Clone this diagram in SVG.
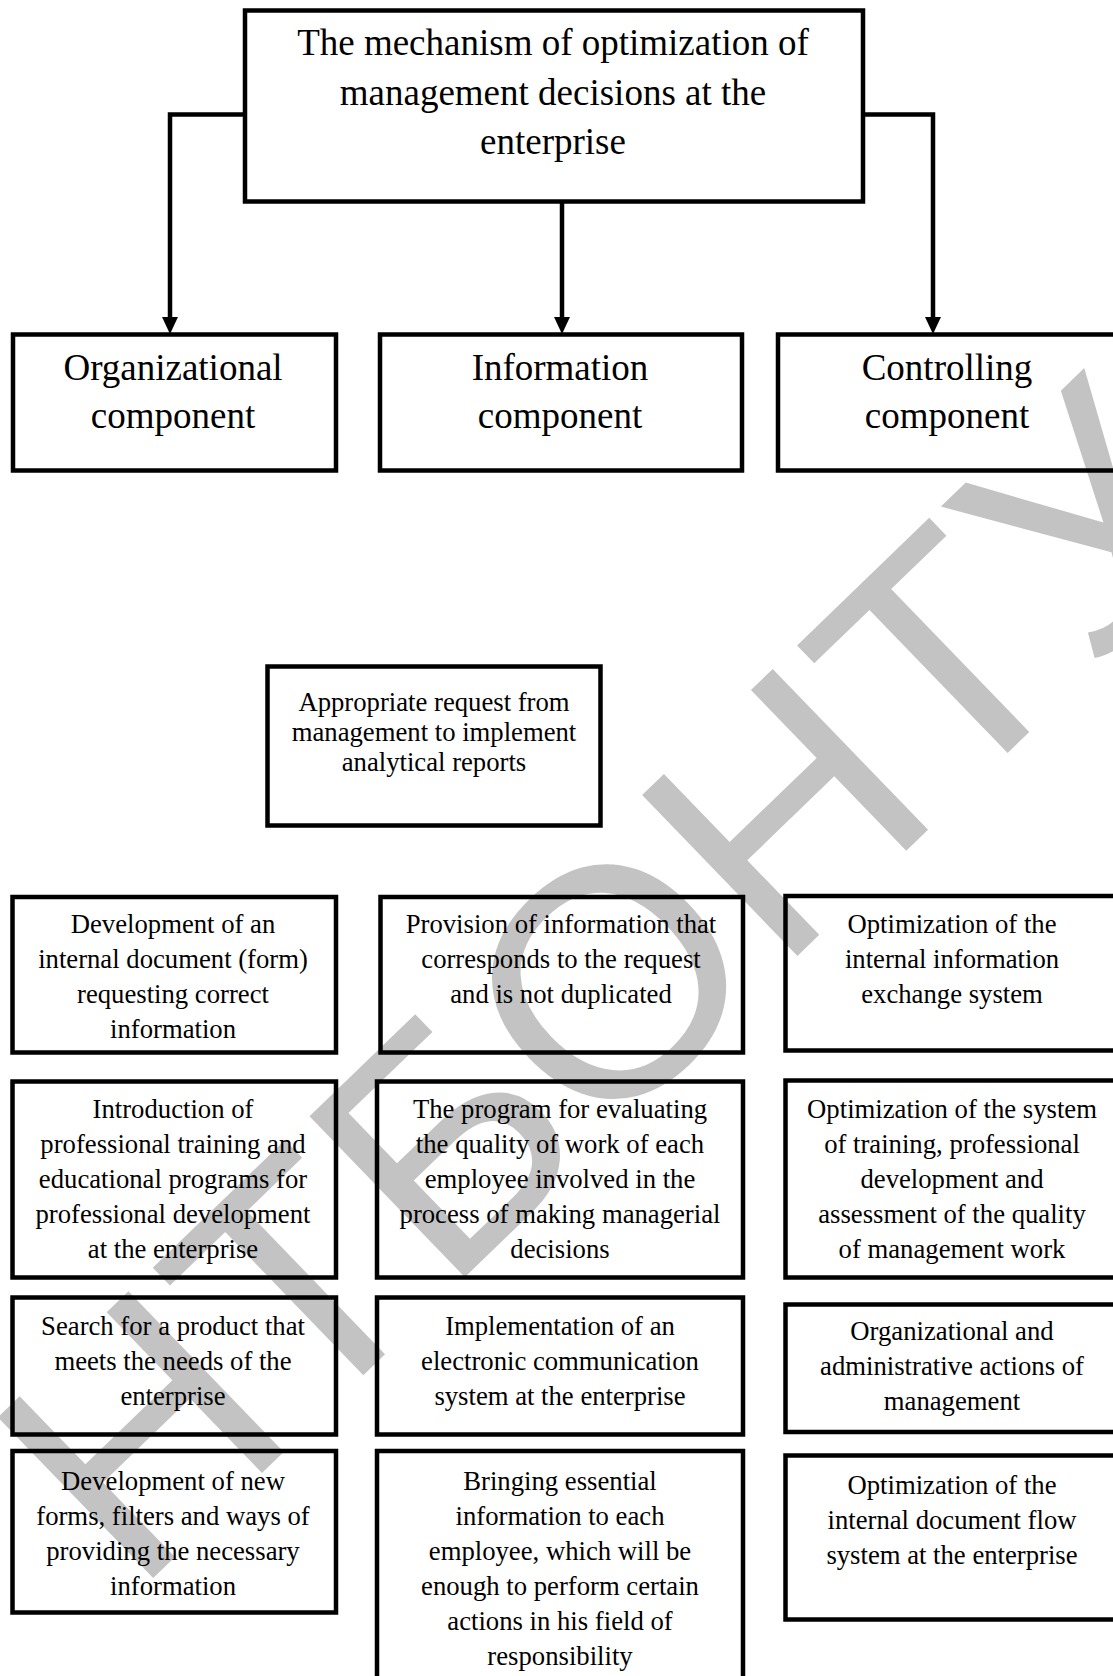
<svg xmlns="http://www.w3.org/2000/svg" width="1113" height="1676" viewBox="0 0 1113 1676">
<style>
.box{fill:none;stroke:#000;stroke-width:4.5}
.big{font-family:"Liberation Serif","Times New Roman",serif;font-size:37px;fill:#000;text-anchor:middle}
.sm{font-family:"Liberation Serif","Times New Roman",serif;font-size:26.7px;fill:#000;text-anchor:middle}
.conn{fill:none;stroke:#000;stroke-width:4.5}
.wm{font-family:"Liberation Sans",Arial,sans-serif;font-size:325px;fill:#c3c3c3}
</style>
<defs>
<marker id="arr" markerUnits="userSpaceOnUse" markerWidth="17" markerHeight="16" viewBox="0 0 17 16" refX="0" refY="8" orient="auto">
<path d="M0,0 L17,8 L0,16 z" fill="#000"/>
</marker>
</defs>
<rect width="1113" height="1676" fill="#fff"/>
<g id="watermark">
<text class="wm" transform="translate(134,1596.6) rotate(-44)" x="0" y="0">НТБОНТУ</text>
</g>
<g id="connectors">
<path class="conn" d="M245,114.5 H170 V317" marker-end="url(#arr)"/>
<path class="conn" d="M562,201.5 V317" marker-end="url(#arr)"/>
<path class="conn" d="M863,114.5 H933 V317" marker-end="url(#arr)"/>
</g>
<g id="title">
<rect class="box" x="245" y="10.5" width="618" height="191"/>
<text class="big" x="553" y="55">The mechanism of optimization of</text>
<text class="big" x="553" y="104.5">management decisions at the</text>
<text class="big" x="553" y="154">enterprise</text>
</g>
<g id="organizational">
<rect class="box" x="13" y="334.5" width="323" height="136"/>
<text class="big" x="173" y="380">Organizational</text>
<text class="big" x="173" y="428">component</text>
</g>
<g id="information">
<rect class="box" x="380" y="334.5" width="362" height="136"/>
<text class="big" x="560" y="380">Information</text>
<text class="big" x="560" y="428">component</text>
</g>
<g id="controlling">
<rect class="box" x="778" y="334.5" width="340" height="136"/>
<text class="big" x="947" y="380">Controlling</text>
<text class="big" x="947" y="428">component</text>
</g>
<g id="request">
<rect class="box" x="267.5" y="666.5" width="333" height="159"/>
<text class="sm" x="434" y="711">Appropriate request from</text>
<text class="sm" x="434" y="741">management to implement</text>
<text class="sm" x="434" y="771">analytical reports</text>
</g>
<g id="org1">
<rect class="box" x="12.5" y="897" width="323.5" height="155.5"/>
<text class="sm" x="173" y="933">Development of an</text>
<text class="sm" x="173" y="968">internal document (form)</text>
<text class="sm" x="173" y="1003">requesting correct</text>
<text class="sm" x="173" y="1038">information</text>
</g>
<g id="inf1">
<rect class="box" x="380.5" y="897" width="362.5" height="155.5"/>
<text class="sm" x="561" y="933">Provision of information that</text>
<text class="sm" x="561" y="968">corresponds to the request</text>
<text class="sm" x="561" y="1003">and is not duplicated</text>
</g>
<g id="ctl1">
<rect class="box" x="785.5" y="896" width="333" height="154.5"/>
<text class="sm" x="952" y="933">Optimization of the</text>
<text class="sm" x="952" y="968">internal information</text>
<text class="sm" x="952" y="1003">exchange system</text>
</g>
<g id="org2">
<rect class="box" x="12.5" y="1081.5" width="323.5" height="196"/>
<text class="sm" x="173" y="1118">Introduction of</text>
<text class="sm" x="173" y="1153">professional training and</text>
<text class="sm" x="173" y="1188">educational programs for</text>
<text class="sm" x="173" y="1223">professional development</text>
<text class="sm" x="173" y="1258">at the enterprise</text>
</g>
<g id="inf2">
<rect class="box" x="377" y="1081.5" width="366" height="196"/>
<text class="sm" x="560" y="1118">The program for evaluating</text>
<text class="sm" x="560" y="1153">the quality of work of each</text>
<text class="sm" x="560" y="1188">employee involved in the</text>
<text class="sm" x="560" y="1223">process of making managerial</text>
<text class="sm" x="560" y="1258">decisions</text>
</g>
<g id="ctl2">
<rect class="box" x="785.5" y="1080.5" width="333" height="197"/>
<text class="sm" x="952" y="1118">Optimization of the system</text>
<text class="sm" x="952" y="1153">of training, professional</text>
<text class="sm" x="952" y="1188">development and</text>
<text class="sm" x="952" y="1223">assessment of the quality</text>
<text class="sm" x="952" y="1258">of management work</text>
</g>
<g id="org3">
<rect class="box" x="12.5" y="1297.5" width="323.5" height="137"/>
<text class="sm" x="173" y="1335">Search for a product that</text>
<text class="sm" x="173" y="1370">meets the needs of the</text>
<text class="sm" x="173" y="1405">enterprise</text>
</g>
<g id="inf3">
<rect class="box" x="377" y="1297.5" width="366" height="137"/>
<text class="sm" x="560" y="1335">Implementation of an</text>
<text class="sm" x="560" y="1370">electronic communication</text>
<text class="sm" x="560" y="1405">system at the enterprise</text>
</g>
<g id="ctl3">
<rect class="box" x="785.5" y="1304.5" width="333" height="127.5"/>
<text class="sm" x="952" y="1340">Organizational and</text>
<text class="sm" x="952" y="1375">administrative actions of</text>
<text class="sm" x="952" y="1410">management</text>
</g>
<g id="org4">
<rect class="box" x="12.5" y="1451" width="323.5" height="161.5"/>
<text class="sm" x="173" y="1490">Development of new</text>
<text class="sm" x="173" y="1525">forms, filters and ways of</text>
<text class="sm" x="173" y="1560">providing the necessary</text>
<text class="sm" x="173" y="1595">information</text>
</g>
<g id="inf4">
<rect class="box" x="377" y="1451" width="366" height="240"/>
<text class="sm" x="560" y="1490">Bringing essential</text>
<text class="sm" x="560" y="1525">information to each</text>
<text class="sm" x="560" y="1560">employee, which will be</text>
<text class="sm" x="560" y="1595">enough to perform certain</text>
<text class="sm" x="560" y="1630">actions in his field of</text>
<text class="sm" x="560" y="1665">responsibility</text>
</g>
<g id="ctl4">
<rect class="box" x="785.5" y="1455.5" width="333" height="164"/>
<text class="sm" x="952" y="1494">Optimization of the</text>
<text class="sm" x="952" y="1529">internal document flow</text>
<text class="sm" x="952" y="1564">system at the enterprise</text>
</g>
</svg>
